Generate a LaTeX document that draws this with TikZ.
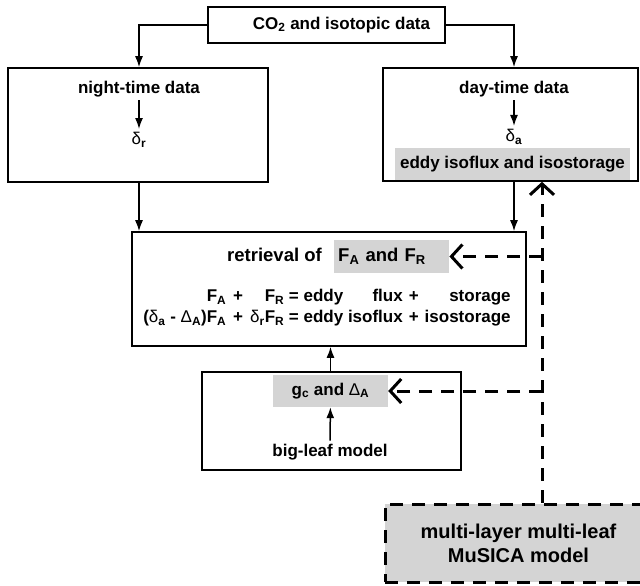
\documentclass[tikz,border=0pt]{standalone}
\usepackage{fontspec}
\setmainfont{Liberation Sans}
\usetikzlibrary{arrows.meta}

\definecolor{lightshade}{gray}{0.83}
\newcommand{\lowix}[1]{\textsubscript{#1}}
\newcommand{\greek}[1]{{\mdseries #1}}

\begin{document}
\begin{tikzpicture}[x=1pt,y=-1pt,
  every node/.style={font=\bfseries\fontsize{17}{21}\selectfont},
  frame/.style={draw,line width=1.6pt,inner sep=0pt},
  hilite/.style={fill=lightshade,inner sep=0pt},
  flow/.style={-{Latex[length=11pt,width=8pt]},line width=1.5pt},
  modellink/.style={-{Straight Barb[length=11pt,width=24pt]},line width=3pt,dash pattern=on 13pt off 9pt}]
  \useasboundingbox (0,0) rectangle (640,586);

  % shaded labels first, frames on top
  \node[hilite,minimum width=235pt,minimum height=33pt] (isoflux) at (512.5,164.5) {eddy isoflux and isostorage};
  \node[hilite,anchor=west,minimum height=33pt,text width=107pt,inner xsep=4pt,
        font=\bfseries\fontsize{18.5}{21}\selectfont] (flux) at (334,256.5) {F\lowix{A} and F\lowix{R}};
  \node[hilite,minimum width=115pt,minimum height=32pt] (gc) at (330.5,391) {g\lowix{c} and \greek{Δ}\lowix{A}};

  \node[frame,minimum width=237pt,minimum height=36pt] (data) at (326.5,25) {\hspace*{30pt}CO\lowix{2} and isotopic data};
  \node[frame,minimum width=260pt,minimum height=114pt] (night) at (138,125) {};
  \node[frame,minimum width=255pt,minimum height=113pt] (day) at (510.5,124.5) {};
  \node[frame,minimum width=394pt,minimum height=114pt] (retrieval) at (329,289) {};
  \node[frame,minimum width=259pt,minimum height=98pt] (bigleaf) at (331.5,421) {};
  \node[hilite,draw,line width=3pt,dash pattern=on 13pt off 9pt,
        minimum width=267pt,minimum height=78pt,align=center,
        font=\bfseries\fontsize{20}{24}\selectfont] (musica) at (518.5,543) {multi-layer multi-leaf\\MuSICA model};

  \node (nighttitle) at (139,89) {night-time data};
  \node (deltar) at (139,140) {\greek{δ}\lowix{r}};
  \node (daytitle) at (514,89) {day-time data};
  \node (deltaa) at (514,137) {\greek{δ}\lowix{a}};
  \node[anchor=base east,inner sep=0pt,xshift=-12pt,
        font=\bfseries\fontsize{18.5}{21}\selectfont] (rettitle) at (flux.base west) {retrieval of};
  \node (budget) at (327,308) {\begin{tabular}{@{}r@{\hspace{7pt}}c@{\hspace{7pt}}r@{ }l@{ }r@{\hspace{6pt}}c@{\hspace{6pt}}r@{}}
    F\lowix{A} & + & F\lowix{R} & = eddy & flux & + & storage\\
    (\greek{δ}\lowix{a} - \greek{Δ}\lowix{A})F\lowix{A} & + & \greek{δ}\lowix{r}F\lowix{R} & = eddy & isoflux & + & isostorage
  \end{tabular}};
  \node (leafmodel) at (330,452) {big-leaf model};

  \coordinate (split) at (542,254);

  \draw[flow] (data.west) -| (nighttitle |- night.north);
  \draw[flow] (data.east) -| (daytitle |- day.north);
  \draw[flow] (nighttitle) -- (deltar);
  \draw[flow] (daytitle) -- (deltaa);
  \draw[flow] (nighttitle |- night.south) -- (nighttitle |- retrieval.north);
  \draw[flow] (daytitle |- day.south) -- (daytitle |- retrieval.north);
  \draw[flow] (gc |- bigleaf.north) -- (gc |- retrieval.south);
  \draw[flow] (leafmodel) -- (gc);

  \draw[modellink] (musica.north -| split) -- (split |- day.south);
  \draw[modellink] (split |- flux.east) -- (flux.east);
  \draw[modellink] (split |- gc.east) -- (gc.east);
\end{tikzpicture}
\end{document}
